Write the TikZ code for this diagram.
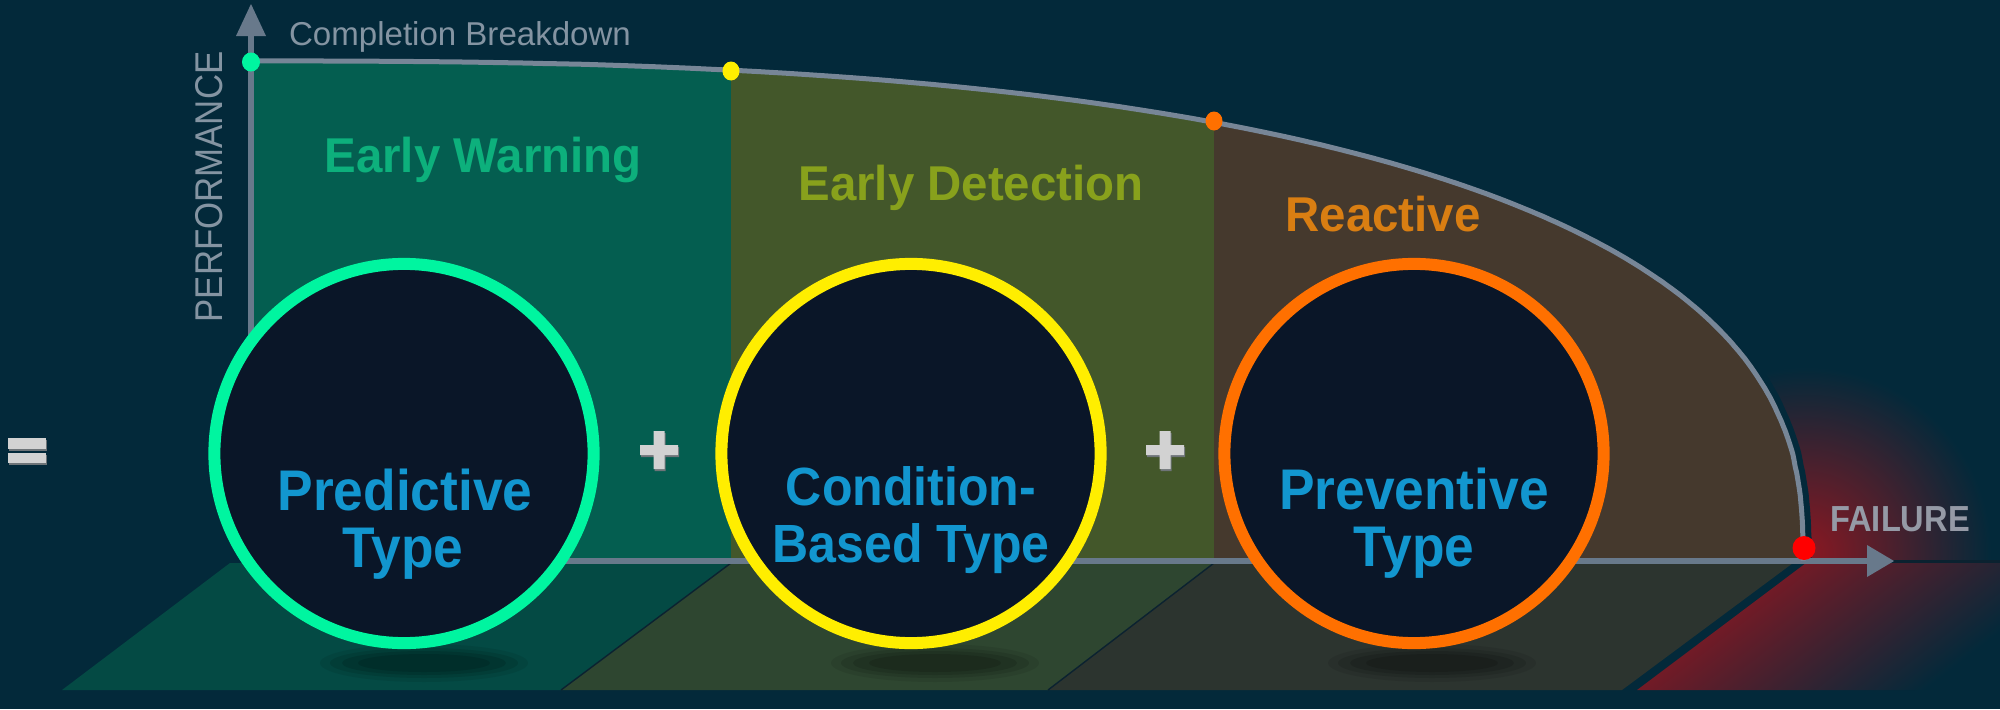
\documentclass[tikz,border=0pt]{standalone}
\usepackage{fontspec}
\usepackage{graphicx}
\setmainfont{Liberation Sans}
\newfontfamily\lblfont[FakeStretch=0.97]{Liberation Sans}
\newfontfamily\circfont[FakeStretch=0.93]{Liberation Sans}
\newfontfamily\axfont[FakeStretch=0.9]{Liberation Sans}
\definecolor{bg}{HTML}{03293A}
\definecolor{axisc}{HTML}{68798B}
\definecolor{p1}{HTML}{045E50}
\definecolor{p2}{HTML}{43572A}
\definecolor{p3}{HTML}{45392D}
\definecolor{f1}{HTML}{044A44}
\definecolor{f2}{HTML}{2E4630}
\definecolor{f3}{HTML}{2C342F}
\definecolor{fred}{HTML}{8A1822}
\definecolor{fred2}{HTML}{951620}
\definecolor{innerc}{HTML}{0A1628}
\definecolor{ringg}{HTML}{00F5A0}
\definecolor{ringy}{HTML}{FFEE00}
\definecolor{ringo}{HTML}{FF7000}
\definecolor{tgreen}{HTML}{0DB07C}
\definecolor{tolive}{HTML}{88A11C}
\definecolor{torange}{HTML}{D97E12}
\definecolor{tblue}{HTML}{1296CF}
\definecolor{tgrey}{HTML}{8494A2}
\definecolor{failc}{HTML}{959AA6}
\definecolor{plusc}{HTML}{D2D2D2}
\definecolor{plush}{HTML}{6E7478}
\definecolor{seam}{HTML}{0B2230}
\tikzset{
  curveto/.style={insert path={-- plot[domain=90:0,samples=181] ({251+1552*pow(max(cos(\x),0.00001),0.769)},{561-500*pow(max(sin(\x),0.00001),0.769)})}},
  curvestart/.style={insert path={plot[domain=90:0,samples=181] ({251+1552*pow(max(cos(\x),0.00001),0.769)},{561-500*pow(max(sin(\x),0.00001),0.769)})}}
}
\begin{document}
\begin{tikzpicture}[x=0.01cm,y=-0.01cm,
  axisline/.style={draw=axisc,line width=0.06cm},
  curveline/.style={draw=axisc!90!white,line width=0.05cm},
  ring/.style={circle,minimum size=3.79cm,inner sep=0pt,line width=0.12cm,fill=innerc,draw=#1},
  lbl/.style={font=\lblfont\bfseries\fontsize{13.9}{14}\selectfont,anchor=base,inner sep=0pt},
  ctext/.style={font=\circfont\bfseries\fontsize{16.3}{17}\selectfont,text=tblue,anchor=base,inner sep=0pt},
  ctextsm/.style={font=\circfont\bfseries\fontsize{15.3}{16}\selectfont,text=tblue,anchor=base,inner sep=0pt},
  axtext/.style={font=\axfont\fontsize{10.8}{11}\selectfont,text=tgrey,anchor=base,inner sep=0pt},
  dot/.style={fill=#1},
  plussign/.style={fill=plusc},
  plusshadow/.style={fill=plush}]
\useasboundingbox (0,0) rectangle (2000,709);
\fill[bg] (0,0) rectangle (2000,709);
% floor
\fill[f1] (230,563) -- (731,563) -- (561,690) -- (62,690) -- cycle;
\fill[f2] (731,563) -- (1214,563) -- (1048,690) -- (561,690) -- cycle;
\fill[f3] (1214,563) -- (1793,563) -- (1622,690) -- (1048,690) -- cycle;
\draw[seam,line width=0.4pt] (731,563) -- (561,690) (1214,563) -- (1048,690);
\begin{scope}
  \clip (1806,563) -- (2000,563) -- (2000,690) -- (1637,690) -- cycle;
  \shade[top color=bg,bottom color=fred2,shading angle=217.7] (1637,561) rectangle (2000,690);
\end{scope}
% glow outside curve
\begin{scope}
  \clip (251,0) [curveto] -- (2000,561) -- (2000,0) -- cycle;
  \shade[inner color=fred,outer color=bg] (1806,552) circle[radius=185];
  \draw[bg,line width=0.17cm] [curvestart];
\end{scope}
% panels
\begin{scope}\clip (251,0) rectangle (731,561); \fill[p1] (251,561) [curveto] -- cycle; \end{scope}
\begin{scope}\clip (731,0) rectangle (1214,561); \fill[p2] (251,561) [curveto] -- cycle; \end{scope}
\begin{scope}\clip (1214,0) rectangle (1900,561); \fill[p3] (251,561) [curveto] -- cycle; \end{scope}
% axes
\coordinate (o) at (251,561);
\coordinate (ytop) at (251,36);
\coordinate (xend) at (1868,561);
\draw[seam,line width=0.03cm] (1893,561) -- (2000,561);
\draw[axisline] (o) -- (ytop);
\fill[axisc] (236,36) -- (251,4) -- (266,36) -- cycle;
\draw[axisline] (o) -- (xend);
\fill[axisc] (1867,545) -- (1894,561) -- (1867,577) -- cycle;
% curve
\draw[curveline] [curvestart];
% dots
\fill[dot=ringg] (251,62) ellipse[x radius=9,y radius=9.5];
\fill[dot=ringy] (731,71) ellipse[x radius=8.5,y radius=9.5];
\fill[dot=ringo] (1214,121) ellipse[x radius=8.5,y radius=9.5];
\fill[dot=red] (1804,548) ellipse[x radius=11.5,y radius=12];
% shadows
\foreach \sx in {424,935,1432}{
  \fill[black,opacity=0.08] (\sx,663) ellipse[x radius=104,y radius=19];
  \fill[black,opacity=0.10] (\sx,663) ellipse[x radius=94,y radius=15];
  \fill[black,opacity=0.12] (\sx,663) ellipse[x radius=82,y radius=12];
  \fill[black,opacity=0.12] (\sx,663) ellipse[x radius=66,y radius=9];
}
% circles
\node[ring=ringg] (pred) at (404,453.5) {};
\node[ring=ringy] (cond) at (911,453.5) {};
\node[ring=ringo] (prev) at (1414,453.5) {};
% circle texts
\node[ctext] (predA) at (405,510) {Predictive};
\node[ctext] (predB) at (403,567) {Type};
\node[ctextsm] (condA) at (911,505) {Condition-};
\node[ctextsm] (condB) at (911,562) {Based Type};
\node[ctext] (prevA) at (1414,509) {Preventive};
\node[ctext] (prevB) at (1414,566) {Type};
% region labels
\node[lbl,text=tgreen] (ew) at (483,172) {Early Warning};
\node[lbl,text=tolive] (ed) at (971,200) {Early Detection};
\node[lbl,text=torange] (re) at (1383,231) {Reactive};
% axis labels
\node[font=\fontsize{9.4}{10}\selectfont,text=tgrey,anchor=base,inner sep=0pt] (cb) at (460,45) {Completion Breakdown};
\node[axtext,rotate=90,font=\axfont\fontsize{11}{11}\selectfont] (perf) at (222,187) {PERFORMANCE};
\node[axtext,text=failc,font=\axfont\bfseries\fontsize{10.3}{11}\selectfont] (fail) at (1900,531) {FAILURE};
% plus signs
\foreach \cx in {659,1165}{
  \begin{scope}[shift={(\cx,450)}]
    \fill[plusshadow] (-4.5,-17) -- (6.5,-17) -- (6.5,-3) -- (20,-3) -- (20,7) -- (6.5,7) -- (6.5,21) -- (-4.5,21) -- (-4.5,7) -- (-18,7) -- (-18,-3) -- (-4.5,-3) -- cycle;
    \fill[plussign] (-5.5,-19) -- (5.5,-19) -- (5.5,-5) -- (19,-5) -- (19,5) -- (5.5,5) -- (5.5,19) -- (-5.5,19) -- (-5.5,5) -- (-19,5) -- (-19,-5) -- (-5.5,-5) -- cycle;
  \end{scope}
}
% equals sign
\fill[plusshadow] (9,440) rectangle (47,451);
\fill[plusshadow] (9,455) rectangle (47,465);
\fill[plussign] (8,438) rectangle (46,449);
\fill[plussign] (8,453) rectangle (46,463);
\end{tikzpicture}
\end{document}
